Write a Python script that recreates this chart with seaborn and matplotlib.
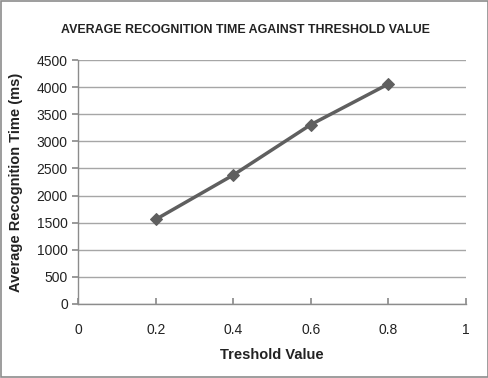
import matplotlib
matplotlib.use("Agg")
import matplotlib.pyplot as plt
import seaborn as sns
import pandas as pd

threshold = [0.2, 0.4, 0.6, 0.8]
avg_time = [1560, 2380, 3310, 4060]
x_ticks = [0, 0.2, 0.4, 0.6, 0.8, 1]
y_ticks = list(range(0, 4501, 500))

sns.set_theme(style="white")
plt.rcParams['font.family'] = ['Liberation Sans', 'DejaVu Sans']

df = pd.DataFrame({"Treshold Value": threshold, "Average Recognition Time (ms)": avg_time})

fig = plt.figure(figsize=(4.89, 3.78), dpi=100)
ax = fig.add_axes([0.16, 0.196, 0.793, 0.645])

sns.lineplot(data=df, x="Treshold Value", y="Average Recognition Time (ms)", ax=ax,
             color="#5f5f5f", linewidth=2.5, marker="D", markersize=6,
             markeredgecolor="#5f5f5f")

ax.set_xlim(0, 1)
ax.set_ylim(0, 4500)
ax.set_xticks(x_ticks)
ax.set_xticklabels(["0", "0.2", "0.4", "0.6", "0.8", "1"])
ax.set_yticks(y_ticks)
ax.yaxis.grid(True, color="#a6a6a6", linewidth=1)
ax.xaxis.grid(False)
for s in ["top", "right"]:
    ax.spines[s].set_visible(False)
for s in ["left", "bottom"]:
    ax.spines[s].set_color("#8c8c8c")
    ax.spines[s].set_linewidth(1)
ax.tick_params(axis="y", direction="out", length=4, color="#8c8c8c", labelsize=10, colors="#222222", left=True)
ax.tick_params(axis="x", direction="in", length=4, color="#8c8c8c", labelsize=10, colors="#222222", pad=14, bottom=True)

ax.set_xlabel("Treshold Value", fontsize=10.5, fontweight="bold", color="#222222", labelpad=8)
ax.set_ylabel("Average Recognition Time (ms)", fontsize=10.5, fontweight="bold", color="#222222", labelpad=10)
fig.text(0.502, 0.92, "AVERAGE RECOGNITION TIME AGAINST THRESHOLD VALUE", ha="center", va="center",
         fontsize=8.9, fontweight="bold", color="#222222")

border = plt.Rectangle((0.003, 0.003), 0.994, 0.994, transform=fig.transFigure, fill=False,
                       edgecolor="#8c8c8c", linewidth=1.2)
fig.patches.append(border)

fig.savefig("out.png", dpi=100)
